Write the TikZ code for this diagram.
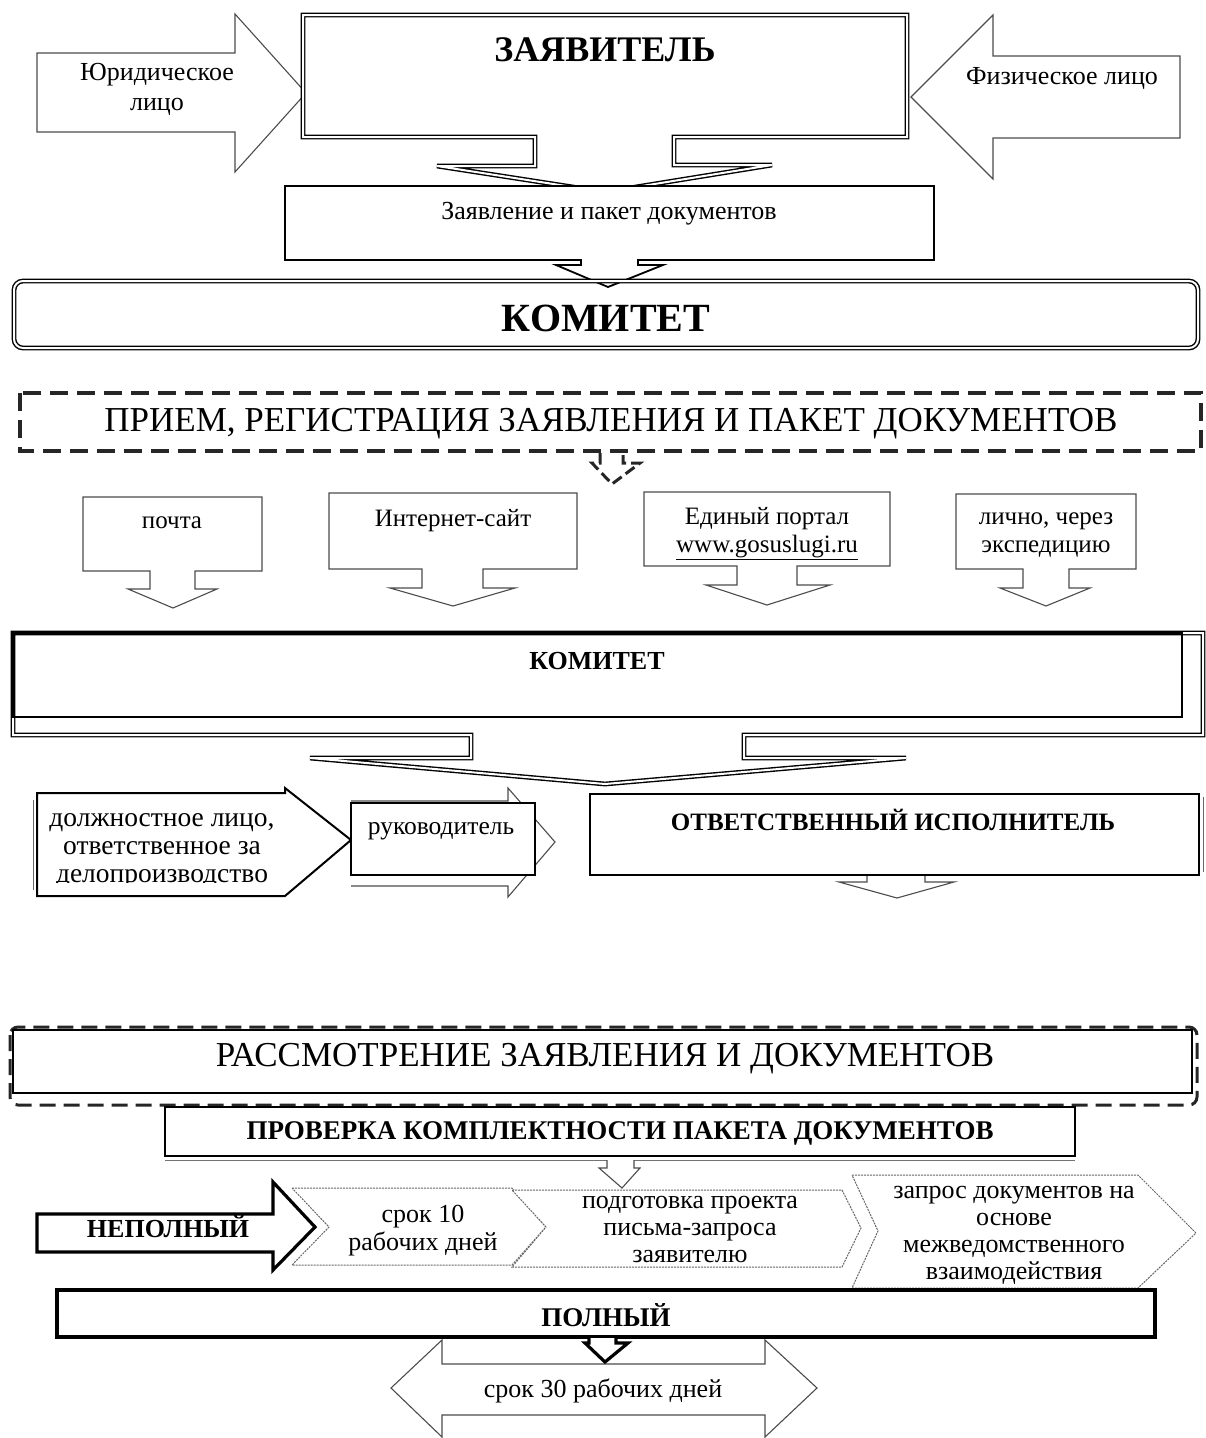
\documentclass[tikz,border=0pt]{standalone}
\usepackage{fontspec}
\setmainfont{Liberation Serif}
\begin{document}
\begin{tikzpicture}[x=1pt,y=-1pt,
  grayshape/.style={draw=black!70,line width=1.1pt,fill=white,line join=miter},
  blkshape/.style={draw=black,line width=2pt,fill=white,line join=miter},
  heavyshape/.style={draw=black,line width=3.2pt,fill=white,line join=miter},
  dblshape/.style={draw=black,double=white,double distance=2pt,line width=1.4pt,line join=miter},
  dashshape/.style={draw=black!85,line width=3.5pt,dash pattern=on 18pt off 9pt},
  dotshape/.style={draw=black!60,line width=1pt,dash pattern=on 2pt off 1pt,fill=white,line join=miter},
  txt/.style={font=\fontsize{26}{28}\selectfont,align=center,inner sep=0pt},
  btxt/.style={font=\fontsize{27}{29}\selectfont\bfseries,align=center,inner sep=0pt},
  bigtxt/.style={font=\fontsize{35}{40}\selectfont,align=center,inner sep=0pt}]
\useasboundingbox (0,0) rectangle (1206,1438);

% ---------- top: applicant ----------
\draw[grayshape] (37,53)--(235,53)--(235,14)--(306,93)--(235,172)--(235,132)--(37,132)--cycle;
\draw[grayshape] (1180,56)--(993,56)--(993,15)--(911,97)--(993,179)--(993,138)--(1180,138)--cycle;
\node[txt,font=\fontsize{26}{30}\selectfont] (jur) at (157,89) {Юридическое\\лицо};
\node[txt] (fiz) at (1062,78) {Физическое лицо};

\draw[dblshape,fill=white] (303,15)--(907,15)--(907,137)--(674,137)--(674,165)--(772,165)--(605,192)--(437,166)--(535,166)--(535,137)--(303,137)--cycle;
\node[bigtxt,font=\fontsize{36}{40}\selectfont\bfseries] (zayav) at (605,50) {ЗАЯВИТЕЛЬ};

\draw[blkshape,line width=1.8pt] (285,186)--(934,186)--(934,260)--(638,260)--(638,265)--(663,265)--(608,287)--(556,265)--(581,265)--(581,260)--(285,260)--cycle;
\node[txt] (paket) at (609,214) {Заявление и пакет документов};

\draw[dblshape,rounded corners=9pt] (14,281) rectangle (1198,348);
\node[txt,font=\fontsize{40}{44}\selectfont\bfseries] (kom1) at (606,318) {КОМИТЕТ};

% ---------- reception ----------
\draw[dashshape] (20,393) rectangle (1201,451);
\node[bigtxt] (priem) at (611,424) {ПРИЕМ, РЕГИСТРАЦИЯ ЗАЯВЛЕНИЯ И ПАКЕТ ДОКУМЕНТОВ};
\draw[dashshape,line width=3pt,dash pattern=on 11pt off 5pt] (600,453)--(600,463)--(592,463)--(612,484)--(640,463)--(623,463)--(623,453);

\draw[grayshape] (83,497)--(262,497)--(262,571)--(195,571)--(195,589)--(217,589)--(173,608)--(128,589)--(150,589)--(150,571)--(83,571)--cycle;
\node[txt,font=\fontsize{25}{28}\selectfont] (pochta) at (172,523) {почта};
\draw[grayshape] (329,493)--(577,493)--(577,569)--(483,569)--(483,588)--(515,588)--(453,606)--(390,588)--(422,588)--(422,569)--(329,569)--cycle;
\node[txt,font=\fontsize{25}{28}\selectfont] (site) at (453,521) {Интернет-сайт};
\draw[grayshape] (644,492)--(890,492)--(890,566)--(797,566)--(797,585)--(830,585)--(767,605)--(706,585)--(737,585)--(737,566)--(644,566)--cycle;
\node[txt,font=\fontsize{25}{28}\selectfont] (portal) at (767,534) {Единый портал\\\underline{www.gosuslugi.ru}};
\draw[grayshape] (956,494)--(1136,494)--(1136,569)--(1069,569)--(1069,588)--(1090,588)--(1046,606)--(1000,588)--(1023,588)--(1023,569)--(956,569)--cycle;
\node[txt,font=\fontsize{25}{28}\selectfont] (lichno) at (1046,535) {лично, через\\экспедицию};

% ---------- committee 2 ----------
\draw[dblshape,fill=white] (13,633)--(1203,633)--(1203,735)--(744,735)--(744,758)--(906,758)--(605,784)--(310,758)--(471,758)--(471,735)--(13,735)--cycle;
\draw[draw=black,line width=3pt] (13,717)--(13,633)--(1182,633);
\draw[draw=black,line width=1.2pt] (13,633) rectangle (1182,717);
\node[btxt,font=\fontsize{26}{28}\selectfont\bfseries] (kom2) at (597,661) {КОМИТЕТ};

\draw[black!60,line width=1pt] (33,800)--(33,890);
\draw[blkshape] (37,793)--(285,793)--(285,788)--(351,840)--(285,896)--(37,896)--cycle;
\begin{scope}
\clip (37,793) rectangle (285,882);
\node[txt,font=\fontsize{27.5}{28}\selectfont] (dolzh) at (162,851) {должностное лицо,\\ответственное за\\делопроизводство};
\end{scope}

\draw[grayshape] (351,801)--(508,801)--(508,788)--(555,842)--(508,897)--(508,886)--(351,886);
\draw[blkshape] (351,803) rectangle (535,875);
\node[txt,font=\fontsize{25.5}{28}\selectfont] (ruk) at (441,831) {руководитель};

\draw[black!60,line width=1pt] (1203,797)--(1203,872);
\draw[blkshape,line width=1.8pt] (590,794) rectangle (1199,875);
\node[btxt,font=\fontsize{25}{28}\selectfont\bfseries] (otv) at (893,820) {ОТВЕТСТВЕННЫЙ ИСПОЛНИТЕЛЬ};
\draw[grayshape] (867,876)--(867,882)--(839,882)--(897,898)--(954,882)--(925,882)--(925,876);

% ---------- consideration ----------
\draw[dashshape,line width=3pt,dash pattern=on 16pt off 8pt,rounded corners=8pt] (10,1027) rectangle (1197,1105);
\draw[draw=black,line width=1.2pt] (13,1030) rectangle (1192,1093);
\node[bigtxt] (rassm) at (605,1059) {РАССМОТРЕНИЕ ЗАЯВЛЕНИЯ И ДОКУМЕНТОВ};

\draw[black!55,line width=1pt] (165,1160)--(1075,1160);
\draw[blkshape,line width=1.5pt] (165,1107) rectangle (1075,1156);
\node[btxt] (prov) at (620,1133) {ПРОВЕРКА КОМПЛЕКТНОСТИ ПАКЕТА ДОКУМЕНТОВ};
\draw[grayshape] (607,1160)--(607,1168)--(599,1168)--(622,1188)--(640,1168)--(634,1168)--(634,1160);

\draw[heavyshape] (37,1214)--(273,1214)--(273,1182)--(315,1227)--(273,1270)--(273,1252)--(37,1252)--cycle;
\node[btxt,font=\fontsize{26}{28}\selectfont\bfseries] (nepoln) at (168,1227) {НЕПОЛНЫЙ};

\draw[dotshape] (292,1188)--(512,1188)--(546,1227)--(512,1265)--(292,1265)--(329,1227)--cycle;
\node[txt] (srok10) at (423,1231) {срок 10\\рабочих дней};
\draw[dotshape] (512,1190)--(842,1190)--(861,1228)--(842,1267)--(512,1267)--(546,1227)--cycle;
\node[txt,font=\fontsize{26}{27}\selectfont] (podg) at (690,1229) {подготовка проекта\\письма-запроса\\заявителю};
\draw[dotshape] (852,1175)--(1138,1175)--(1196,1233)--(1138,1288)--(852,1288)--(878,1231)--cycle;
\node[txt,font=\fontsize{26}{27}\selectfont] (zapros) at (1014,1235) {запрос документов на\\основе\\межведомственного\\взаимодействия};

% ---------- complete ----------
\draw[grayshape] (442,1364)--(442,1340)--(391,1388)--(442,1437)--(442,1415)--(765,1415)--(765,1437)--(817,1388)--(765,1340)--(765,1364)--cycle;
\draw[heavyshape] (57,1290) rectangle (1155,1337);
\node[btxt] (poln) at (606,1315) {ПОЛНЫЙ};
\draw[heavyshape] (589,1338)--(589,1343)--(585,1343)--(605,1362)--(628,1343)--(616,1343)--(616,1338);
\node[txt] (srok30) at (603,1391) {срок 30 рабочих дней};
\end{tikzpicture}
\end{document}
